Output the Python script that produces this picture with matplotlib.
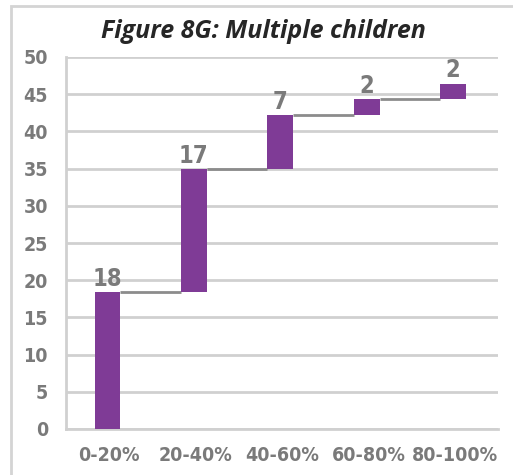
import matplotlib
matplotlib.use("Agg")
import matplotlib.pyplot as plt
from matplotlib.patches import Rectangle
from matplotlib import font_manager as fm
import numpy as np

categories = ["0-20%", "20-40%", "40-60%", "60-80%", "80-100%"]
values = [18.4, 16.5, 7.3, 2.1, 2.1]
labels = ["18", "17", "7", "2", "2"]
yticks = [0, 5, 10, 15, 20, 25, 30, 35, 40, 45, 50]

purple = "#7f3b96"
gray_txt = "#7a7a7a"
grid_c = "#d0d0d0"
conn_c = "#8c8c8c"

# find a condensed bold font if available
cond_path = None
for f in fm.fontManager.ttflist:
    if f.name == "DejaVu Sans" and f.stretch == "condensed" and f.weight in ("bold", 700) and f.style == "normal":
        cond_path = f.fname
        break
if cond_path:
    cond = dict(fontproperties=fm.FontProperties(fname=cond_path))
else:
    cond = None

fig = plt.figure(figsize=(5.13, 4.75), dpi=100)
W, H = 513, 475
ax = fig.add_axes([66 / W, 1 - 429 / H, (498 - 66) / W, (429 - 57) / H])

fig.patches.append(Rectangle((11 / W, -0.1), 1.2, (475 - 6) / H + 0.1, transform=fig.transFigure,
                             fill=False, edgecolor="#d4d4d4", lw=2))

bottoms = np.concatenate([[0], np.cumsum(values)[:-1]])
tops = bottoms + np.array(values)
x = np.arange(len(categories))
bw = 0.3
ax.bar(x - 0.02, values, bottom=bottoms, width=bw, color=purple, zorder=3)

for i in range(len(categories) - 1):
    ax.plot([x[i] - 0.02 + bw / 2, x[i + 1] - 0.02 - bw / 2], [tops[i], tops[i]], color=conn_c, lw=2, zorder=2,
            solid_capstyle="butt")


def fp(size):
    if cond_path:
        return fm.FontProperties(fname=cond_path, size=size)
    return fm.FontProperties(family="DejaVu Sans", weight="bold", size=size * 0.85)


for xi, t, lab in zip(x, tops, labels):
    ax.annotate(lab, (xi - 0.02, t), xytext=(0, 1), textcoords="offset points", ha="center", va="bottom",
                fontproperties=fp(17), color=gray_txt)

ax.set_xlim(-0.5, len(categories) - 0.5)
ax.set_ylim(0, 50)
ax.set_yticks(yticks)
ax.set_xticks(x)
ax.set_xticklabels(categories)
ax.yaxis.grid(True, color=grid_c, lw=2, zorder=0)
ax.set_axisbelow(True)
for s in ["top", "right"]:
    ax.spines[s].set_visible(False)
for s in ["left", "bottom"]:
    ax.spines[s].set_color(grid_c)
    ax.spines[s].set_linewidth(2)
ax.tick_params(length=0)
ax.tick_params(axis="y", pad=13)
ax.tick_params(axis="x", pad=12)
for lab in ax.get_xticklabels() + ax.get_yticklabels():
    lab.set_fontproperties(fp(14))
    lab.set_color(gray_txt)

fig.text(263 / W, 1 - 31 / H, "Figure 8G: Multiple children", ha="center", va="center",
         fontsize=18, fontweight="bold", style="italic", color="#262626", family="Open Sans")

fig.savefig("out.png", dpi=100)
